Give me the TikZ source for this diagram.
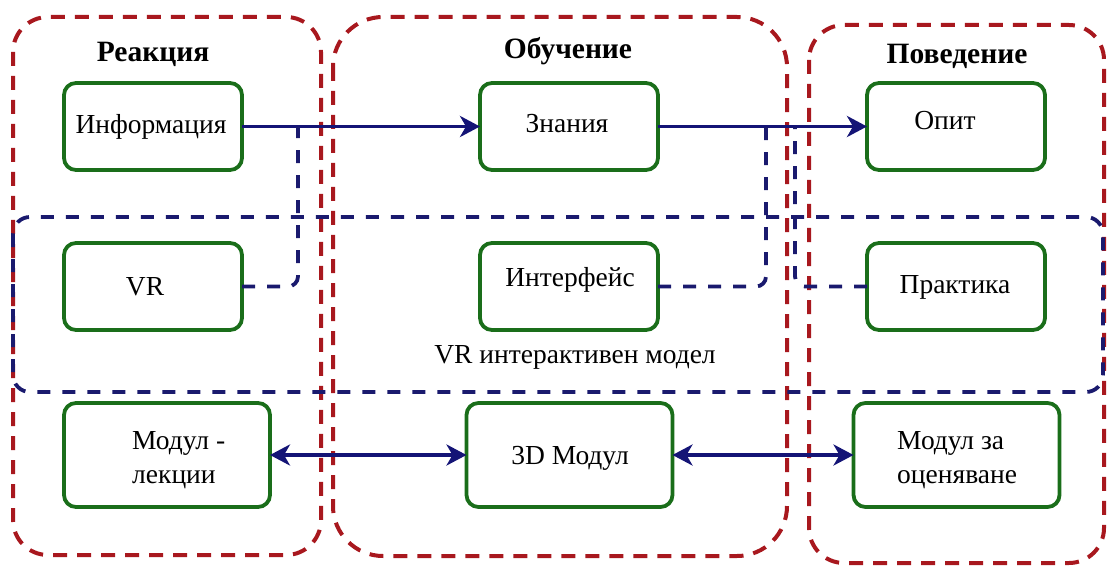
\documentclass[tikz,border=0pt]{standalone}
\usepackage{fontspec}
\setmainfont{Liberation Serif}
\usetikzlibrary{arrows.meta}

\definecolor{grpred}{RGB}{168,24,30}
\definecolor{grpblue}{RGB}{26,26,110}
\definecolor{boxgreen}{RGB}{26,110,26}
\definecolor{arrblue}{RGB}{20,20,118}

\tikzset{
  stagegroup/.style={draw=grpred, line width=4pt, dash pattern=on 14pt off 10pt},
  vrgroup/.style={draw=grpblue, line width=3.8pt, dash pattern=on 13pt off 12pt, rounded corners=17pt},
  stepbox/.style={draw=boxgreen, line width=3.8pt, rounded corners=12pt, minimum width=178pt,
    minimum height=87pt, inner sep=0pt, outer sep=0pt},
  widebox/.style={stepbox, minimum width=206pt, minimum height=104pt},
  boxtext/.style={inner sep=0pt, font=\fontsize{27.5}{34}\selectfont},
  grouptitle/.style={inner sep=0pt, font=\fontsize{29.5}{34}\selectfont\bfseries},
  flow/.style={draw=arrblue, line width=3.6pt, -{Stealth[length=20pt, width=21pt, inset=6pt]}},
  twoway/.style={draw=arrblue, line width=3.6pt, {Stealth[length=20pt, width=21pt, inset=6pt]}-{Stealth[length=20pt, width=21pt, inset=6pt]}},
  vrlink/.style={draw=grpblue, line width=3.8pt, dash pattern=on 13pt off 12pt, rounded corners=10pt},
}

\begin{document}
\begin{tikzpicture}[x=1pt, y=-1pt]
\useasboundingbox (0,0) rectangle (1107,577);

% stage groups
\draw[stagegroup, rounded corners=35pt] (13,17) rectangle (321,555);
\draw[stagegroup, rounded corners=50pt] (333,17) rectangle (787,556);
\draw[stagegroup, rounded corners=35pt] (809,25) rectangle (1104,563);

% VR model band
\draw[vrgroup] (13,217) rectangle (1103,392);

% group titles
\node[grouptitle] (t-reak) at (153,54) {Реакция};
\node[grouptitle] (t-obuch) at (568,51) {Обучение};
\node[grouptitle] (t-poved) at (957,56) {Поведение};

% boxes
\node[stepbox] (info) at (153,126.5) {};
\node[stepbox] (zn)   at (569,126.5) {};
\node[stepbox] (op)   at (956,126.5) {};
\node[stepbox] (vr)   at (153,286.5) {};
\node[stepbox] (intf) at (569,286.5) {};
\node[stepbox] (prak) at (956,286.5) {};
\node[widebox] (modl) at (167,455) {};
\node[widebox] (m3d)  at (569.5,455) {};
\node[widebox] (modo) at (956.5,455) {};

% box texts
\node[boxtext] (l-info) at (151,127) {Информация};
\node[boxtext] (l-zn)   at (567,124) {Знания};
\node[boxtext] (l-op)   at (945,121) {Опит};
\node[boxtext] (l-vr)   at (145,287) {VR};
\node[boxtext] (l-intf) at (570,280) {Интерфейс};
\node[boxtext] (l-prak) at (955,287) {Практика};
\node[boxtext, align=left, anchor=west] (l-modl) at (132,460) {Модул -\\лекции};
\node[boxtext] (l-m3d)  at (570,458) {3D Модул};
\node[boxtext, align=left, anchor=west] (l-modo) at (897,460) {Модул за\\оценяване};
\node[boxtext] (l-vrm)  at (575,357) {VR интерактивен модел};

% main flow
\draw[flow] (info.east) -- (zn.west);
\draw[flow] (zn.east) -- (op.west);

% taps on the flow line
\coordinate (j1) at (298,127);
\coordinate (j2) at (766,127);
\coordinate (j3) at (795,127);
\draw[vrlink] (vr.east) -| (j1);
\draw[vrlink] (intf.east) -| (j2);
\draw[vrlink] (prak.west) -| (j3);

% module links
\draw[twoway] (modl.east) -- (m3d.west);
\draw[twoway] (m3d.east) -- (modo.west);
\end{tikzpicture}
\end{document}
